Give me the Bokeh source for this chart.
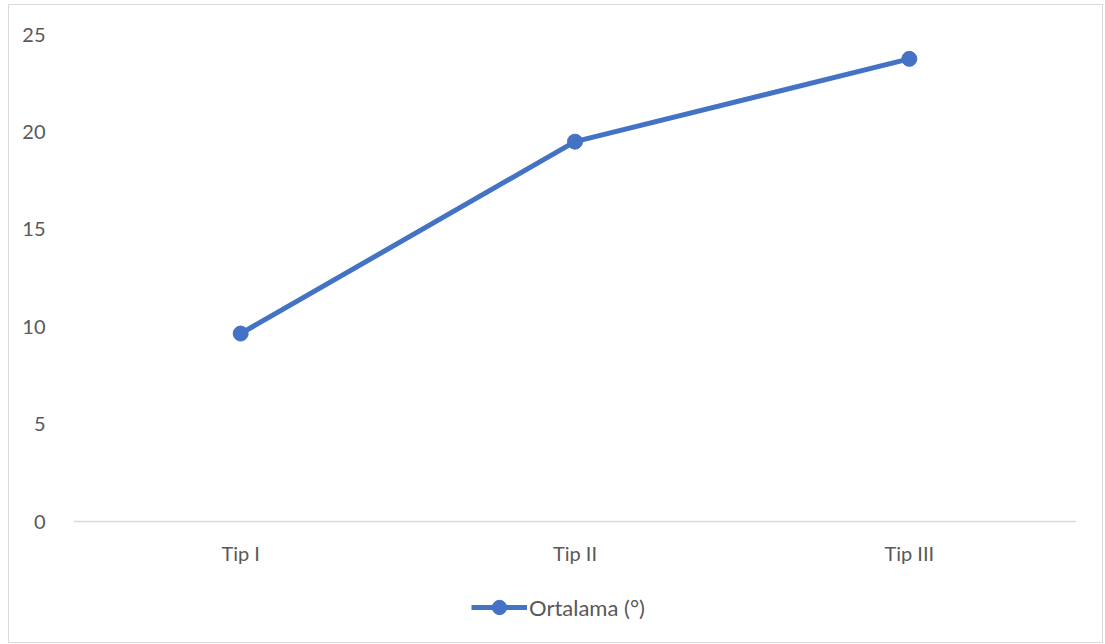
from bokeh.plotting import figure
from bokeh.models import (FactorRange, Range1d, Legend, LegendItem, FixedTicker, Span,
                          ColumnDataSource)
from bokeh.core.properties import value
from bokeh.embed import file_html
from bokeh.resources import INLINE

categories = ["Tip I", "Tip II", "Tip III"]
ortalama = [9.65, 19.5, 23.75]
series_name = "Ortalama (°)"
y_ticks = [0, 5, 10, 15, 20, 25]

BLUE = "#4472C4"
TXT = "#595959"
FONT = "Lato"

p = figure(x_range=FactorRange(*categories, range_padding=0), y_range=Range1d(-5.9, 25),
           width=1095, height=639, output_backend="svg", toolbar_location=None,
           x_axis_location=None,
           min_border_left=64, min_border_right=28, min_border_top=29, min_border_bottom=8)
p.margin = (4, 0, 0, 8)
p.styles = {"border": "1px solid #d9d9d9", "box-sizing": "border-box"}
p.outline_line_color = None
p.xgrid.grid_line_color = None
p.ygrid.grid_line_color = None

# category axis baseline at y = 0
p.add_layout(Span(location=y_ticks[0], dimension="width", line_color="#d9d9d9", line_width=1.5))

src = ColumnDataSource(dict(cat=categories, val=ortalama, base=[y_ticks[0]] * len(categories)))
r_line = p.line("cat", "val", source=src, line_color=BLUE, line_width=5)
r_pts = p.scatter("cat", "val", source=src, size=15, fill_color=BLUE, line_color=BLUE)

# category tick labels under the baseline
p.text("cat", "base", text="cat", source=src, y_offset=31, text_align="center",
       text_baseline="middle", text_font=value(FONT), text_font_size="20px", text_color=TXT)

p.yaxis.ticker = FixedTicker(ticks=y_ticks)
p.yaxis.axis_line_color = None
p.yaxis.major_tick_line_color = None
p.yaxis.minor_tick_line_color = None
p.yaxis.major_label_standoff = 22
p.yaxis.major_label_text_font = FONT
p.yaxis.major_label_text_font_size = "20px"
p.yaxis.major_label_text_color = TXT

legend = Legend(items=[LegendItem(label=series_name, renderers=[r_line, r_pts])],
                location=(398, 11), orientation="horizontal",
                glyph_width=56, glyph_height=36, label_standoff=2,
                label_text_font=FONT, label_text_font_size="22px", label_text_color=TXT,
                border_line_color=None, background_fill_alpha=0, padding=0, margin=0)
p.add_layout(legend, "center")

open("out.html", "w").write(file_html(p, INLINE))
